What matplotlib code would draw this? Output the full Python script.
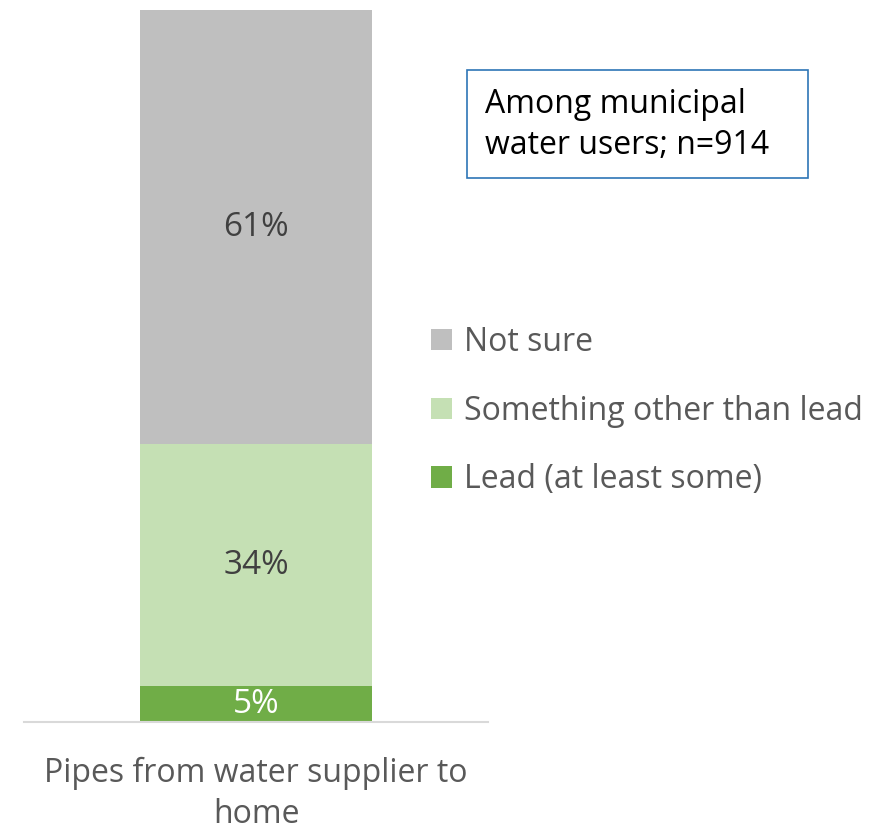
import matplotlib
matplotlib.use("Agg")
import matplotlib.pyplot as plt
from matplotlib.patches import Patch, Rectangle

plt.rcParams['font.family'] = ['Open Sans', 'DejaVu Sans']

categories = ["Pipes from water supplier to\nhome"]
series_names = ["Lead (at least some)", "Something other than lead", "Not sure"]
series_values = [[5], [34], [61]]
series_colors = ["#70ad47", "#c5e0b4", "#bfbfbf"]
label_colors = ["white", "#404040", "#404040"]
note_text = "Among municipal\nwater users; n=914"

W, H = 875, 832
FS = 23

fig = plt.figure(figsize=(W / 100, H / 100), dpi=100)
ax = fig.add_axes([24 / W, 1 - 722 / H, 464 / W, 712 / H])

x = list(range(len(categories)))
bottom = [0] * len(categories)
for name, vals, col, lc in zip(series_names, series_values, series_colors, label_colors):
    ax.bar(x, vals, width=0.5, bottom=bottom, color=col, label=name)
    for xi, v, b in zip(x, vals, bottom):
        ax.text(xi, b + v / 2, f"{v}%", ha="center", va="center",
                fontsize=24, color=lc)
    bottom = [b + v for b, v in zip(bottom, vals)]

ax.set_xlim(-0.5, 0.5)
ax.set_ylim(0, 100)
ax.set_yticks([])
ax.set_xticks(x)
ax.set_xticklabels(categories, fontsize=FS, color="#595959", linespacing=1.33)
ax.tick_params(axis="x", length=0, pad=25)
for s in ["top", "right", "left"]:
    ax.spines[s].set_visible(False)
ax.spines["bottom"].set_color("#d9d9d9")
ax.spines["bottom"].set_linewidth(1.5)

handles = [Patch(facecolor=c, label=n) for n, c in zip(series_names, series_colors)][::-1]
fig.legend(handles=handles, loc="center left", bbox_to_anchor=(431 / W, 1 - 411 / H),
           frameon=False, fontsize=FS, handlelength=0.66, handleheight=0.66,
           handletextpad=0.36, labelspacing=1.12, labelcolor="#595959",
           borderpad=0, borderaxespad=0)

fig.text(485 / W, 1 - 125 / H, note_text, fontsize=FS, color="black",
         ha="left", va="center", linespacing=1.35)
fig.patches.append(Rectangle((467 / W, 1 - 178 / H), 341 / W, 108 / H,
                             transform=fig.transFigure, fill=False,
                             edgecolor="#2e75b6", linewidth=1.2))

fig.savefig("out.png", dpi=100)
